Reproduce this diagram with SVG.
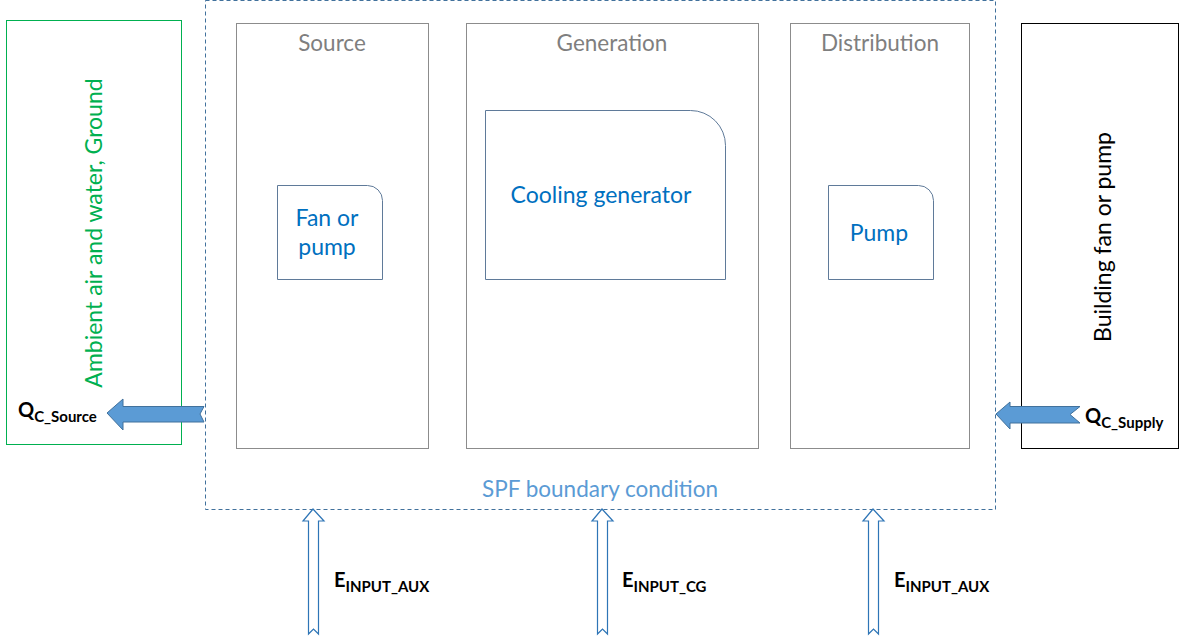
<svg xmlns="http://www.w3.org/2000/svg" width="1184" height="639" viewBox="0 0 1184 639">
  <style>
    .stage { fill: #ffffff; stroke: #8c8c8c; stroke-width: 1; }
    .stage-title { font-family: Lato, "Open Sans", sans-serif; font-size: 22.5px; fill: #7f7f7f; text-anchor: middle; }
    .part { fill: #ffffff; stroke: #5f7a99; stroke-width: 1; }
    .part-label { font-family: Lato, "Open Sans", sans-serif; font-size: 23px; fill: #0070c0; text-anchor: middle; }
    .flow { fill: #5b9bd5; stroke: #41719c; stroke-width: 1; }
    .energy { fill: #ffffff; stroke: #2e75b6; stroke-width: 1.2; }
    .sym { font-family: Lato, "Open Sans", sans-serif; font-weight: bold; fill: #000000; }
    .sym-main { font-size: 20px; }
    .sym-sub { font-size: 15px; }
  </style>

  <!-- environment side -->
  <g id="ambient">
    <rect x="6.5" y="20.5" width="175" height="424" fill="#ffffff" stroke="#00b050" stroke-width="1"/>
    <text transform="translate(102,233) rotate(-90)" text-anchor="middle" font-family="Lato, 'Open Sans', sans-serif" font-size="23" fill="#00b050">Ambient air and water, Ground</text>
  </g>

  <!-- building side -->
  <g id="building">
    <rect x="1021.5" y="23.5" width="157" height="425" fill="#ffffff" stroke="#000000" stroke-width="1"/>
    <text transform="translate(1111,237) rotate(-90)" text-anchor="middle" font-family="Lato, 'Open Sans', sans-serif" font-size="23" fill="#000000">Building fan or pump</text>
  </g>

  <!-- system boundary -->
  <g id="boundary">
    <rect x="205.5" y="0.5" width="790" height="509" fill="none" stroke="#41719c" stroke-width="1" stroke-dasharray="4 3"/>
    <text x="600" y="497" text-anchor="middle" font-family="Lato, 'Open Sans', sans-serif" font-size="22.5" fill="#5b9bd5">SPF boundary condition</text>
  </g>

  <g id="source">
    <rect class="stage" x="236.5" y="23.5" width="192" height="425"/>
    <text class="stage-title" x="332" y="51">Source</text>
  </g>

  <g id="generation">
    <rect class="stage" x="466.5" y="23.5" width="292" height="425"/>
    <text class="stage-title" x="612" y="51">Generation</text>
  </g>

  <g id="distribution">
    <rect class="stage" x="790.5" y="23.5" width="179" height="425"/>
    <text class="stage-title" x="880" y="51">Distribution</text>
  </g>

  <g id="fan-or-pump">
    <path class="part" d="M277.5,185.5 H367.5 A15,15 0 0 1 382.5,200.5 V279.5 H277.5 Z"/>
    <text class="part-label" x="327" y="226">Fan or</text>
    <text class="part-label" x="327" y="255">pump</text>
  </g>

  <g id="cooling-generator">
    <path class="part" d="M485.5,110.5 H690.5 A35,35 0 0 1 725.5,145.5 V279.5 H485.5 Z"/>
    <text class="part-label" x="601" y="203">Cooling generator</text>
  </g>

  <g id="pump">
    <path class="part" d="M828.5,185.5 H918.5 A15,15 0 0 1 933.5,200.5 V279.5 H828.5 Z"/>
    <text class="part-label" x="879" y="241">Pump</text>
  </g>

  <!-- heat and energy flows -->
  <g id="connectors">
    <path class="flow" d="M107,413 L123,399 V406.5 H204 L200,414 L204,422 H123 V430 Z"/>
    <path class="flow" d="M996,414 L1010,402 V406.5 H1080 L1070,414.5 L1080,423 H1010 V429 Z"/>
    <path class="energy" d="M313,509 L324,521 H318.5 V634 L313.5,629 L308.5,634 V521 H303 Z"/>
    <path class="energy" d="M602,509 L613,521 H607.5 V634 L602.5,629 L597.5,634 V521 H592 Z"/>
    <path class="energy" d="M873,509 L884,521 H878.5 V634 L873.5,629 L868.5,634 V521 H863 Z"/>
  </g>

  <g id="labels">
    <text class="sym" x="18" y="417"><tspan class="sym-main">Q</tspan><tspan class="sym-sub" dy="5">C_Source</tspan></text>
    <text class="sym" x="1085" y="423"><tspan class="sym-main">Q</tspan><tspan class="sym-sub" dy="5">C_Supply</tspan></text>
    <text class="sym" x="334" y="587"><tspan class="sym-main">E</tspan><tspan class="sym-sub" dy="5">INPUT_AUX</tspan></text>
    <text class="sym" x="622" y="587"><tspan class="sym-main">E</tspan><tspan class="sym-sub" dy="5">INPUT_CG</tspan></text>
    <text class="sym" x="894" y="587"><tspan class="sym-main">E</tspan><tspan class="sym-sub" dy="5">INPUT_AUX</tspan></text>
  </g>
</svg>
